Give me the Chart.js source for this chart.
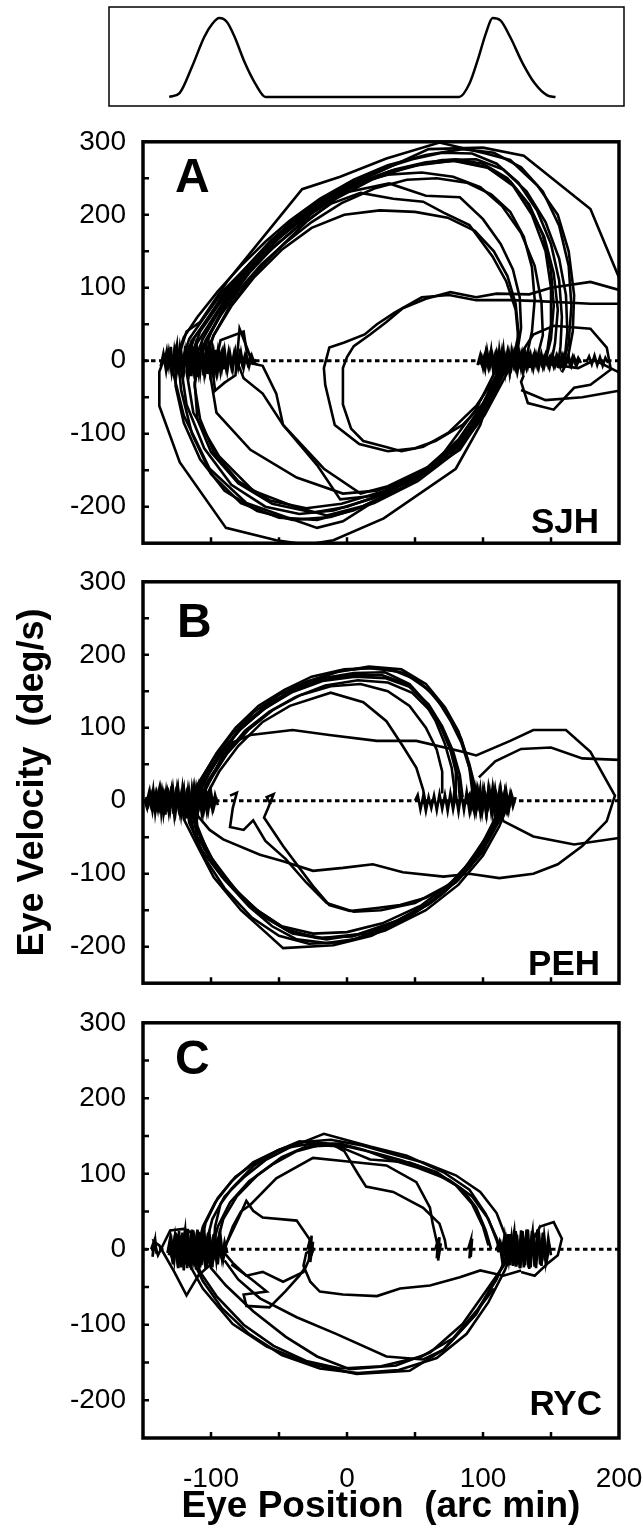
<!DOCTYPE html>
<html>
<head>
<meta charset="utf-8">
<script src="https://cdn.jsdelivr.net/npm/chart.js@4.4.0/dist/chart.umd.min.js"></script>
<style>
  body { margin: 0; background: #fff; }
  #page { position: relative; width: 643px; height: 1539px; overflow: hidden; background: #fff; }
  canvas { position: absolute; left: 0; }
  .tag { position: absolute; font-family: "Liberation Sans", Arial, sans-serif; font-weight: bold; line-height: 1; color: #000; white-space: nowrap; }
</style>
</head>
<body>
<div id="page">
  <canvas id="stim" width="643" height="116" style="top:0;width:643px;height:116px"></canvas>
  <canvas id="panelA" width="643" height="469" style="top:108px;width:643px;height:469px"></canvas>
  <canvas id="panelB" width="643" height="469" style="top:548px;width:643px;height:469px"></canvas>
  <canvas id="panelC" width="643" height="550" style="top:989px;width:643px;height:550px"></canvas>
  <div class="tag" style="left:175px;top:152px;font-size:48px">A</div>
  <div class="tag" style="left:177px;top:597px;font-size:48px">B</div>
  <div class="tag" style="left:175px;top:1034px;font-size:48px">C</div>
  <div class="tag" style="right:44px;top:503px;font-size:35px">SJH</div>
  <div class="tag" style="right:43px;top:945px;font-size:35px">PEH</div>
  <div class="tag" style="right:41px;top:1385px;font-size:35px">RYC</div>
</div>
<script>
const FONT = '"Liberation Sans", Arial, sans-serif';

// target trace in the top box (arbitrary time units, 0..1 displacement)
const stimTime = [11.7, 13.7, 16.1, 18.5, 20.1, 21.4, 22.9, 24.4, 26.4, 28.4, 30.4, 68.0, 70.0, 71.6, 73.2, 74.5, 76.0, 77.9, 80.3, 82.7, 85.1, 86.7];
const stimPos  = [0, 0.05, 0.38, 0.76, 0.93, 1.0, 0.95, 0.76, 0.43, 0.17, 0, 0, 0.17, 0.47, 0.81, 1.0, 0.97, 0.76, 0.43, 0.17, 0.02, 0];

// axis ticks
const xTicks = [-150, 200, 50];   // min, max, step  (arc min)
const yTicks = [-250, 300, 50];   // min, max, step  (deg/s)
const zeroLine = [[-150, 0], [200, 0]];

// ---------- panel A (SJH): [position, velocity] ----------
const sjhUp1 = [[-120,0],[-114,28],[-102,58],[-88,100],[-72,132],[-56,165],[-40,190],[-22,215],[0,242],[24,262],[48,276],[70,285],[92,284],[110,270],[126,244],[140,205],[150,160],[156,110],[158,60],[157,20],[155,-10]];
const sjhUp2 = [[-116,-5],[-110,25],[-98,60],[-84,100],[-68,135],[-50,168],[-32,195],[-12,220],[10,245],[35,262],[58,272],[80,276],[100,270],[118,250],[133,215],[145,170],[152,120],[155,70],[153,25],[150,-5]];
const sjhUp3 = [[-124,5],[-118,40],[-108,53],[-88,109],[-64,164],[-33,235],[-5,252],[29,277],[68,299],[102,284],[120,275],[140,240],[155,200],[163,150],[167,90],[166,40],[162,0],[158,-16]];
const sjhUp4 = [[-108,8],[-100,40],[-86,90],[-70,128],[-50,168],[-28,205],[-5,235],[25,260],[60,290],[100,292],[130,281],[179,208],[202,105]];
const sjhUp5 = [[-112,0],[-106,30],[-96,62],[-82,100],[-66,135],[-48,165],[-25,203],[-3,230],[31,243],[58,226],[83,224],[100,194],[113,160],[122,125],[127,87],[128,45],[125,10],[120,-5]];
const sjhUp6 = [[-108,5],[-100,38],[-88,80],[-72,120],[-54,156],[-35,185],[-12,215],[10,230],[34,222],[56,218],[71,203],[90,186],[107,143],[117,109],[124,70],[126,30],[122,0]];
const sjhUp7 = [[-122,-5],[-116,30],[-104,62],[-90,98],[-74,128],[-58,160],[-40,192],[-18,222],[6,243],[30,255],[55,258],[78,252],[98,238],[114,212],[128,175],[138,130],[143,80],[144,35],[140,5]];
const sjhUp8 = [[-104,0],[-98,35],[-86,75],[-70,115],[-52,150],[-30,190],[-8,222],[18,248],[44,265],[70,275],[95,276],[115,262],[132,232],[146,190],[156,140],[161,90],[162,40],[160,0]];
const sjhUp9 = [[-126,0],[-120,32],[-110,60],[-95,95],[-78,130],[-60,163],[-42,192],[-20,222],[5,248],[30,268],[58,282],[85,290],[108,285],[128,265],[144,232],[156,185],[163,130],[165,75],[163,25],[158,-10]];
const sjhUp10 = [[-115,5],[-108,40],[-95,75],[-80,112],[-62,148],[-43,182],[-22,210],[2,236],[28,256],[52,268],[78,274],[104,264],[122,240],[136,200],[146,150],[150,100],[150,50],[147,10]];
const sjhUp11 = [[-118,2],[-112,32],[-100,65],[-86,102],[-70,136],[-52,168],[-34,196],[-14,222],[8,244],[32,260],[56,270],[80,274],[102,266],[120,246],[134,214],[144,172],[150,124],[152,75],[150,30],[146,0]];
const sjhUp12 = [[-110,-4],[-104,28],[-93,62],[-79,98],[-63,132],[-45,162],[-26,190],[-4,216],[20,236],[44,248],[66,250],[88,244],[106,228],[120,204],[130,170],[136,128],[138,84],[136,40],[132,5]];
const sjhUp13 = [[-106,0],[-98,35],[-85,75],[-68,115],[-48,152],[-26,182],[-2,200],[24,206],[50,204],[74,196],[94,178],[108,150],[118,116],[124,78],[126,40],[124,8]];
const sjhDown1 = [[122,5],[115,-11],[110,-40],[98,-75],[76,-130],[46,-169],[12,-199],[-15,-212],[-40,-199],[-69,-178],[-94,-131],[-113,-71],[-118,-15],[-116,5]];
const sjhDown2 = [[118,3],[112,-7],[103,-66],[83,-122],[51,-160],[22,-178],[-3,-182],[-37,-160],[-71,-122],[-96,-71],[-101,-15],[-98,5]];
const sjhDown3 = [[120,0],[110,-11],[95,-66],[66,-139],[29,-182],[-3,-220],[-22,-229],[-45,-214],[-74,-195],[-101,-148],[-120,-75],[-128,-15],[-126,5]];
const sjhDown4 = [[112,0],[110,-19],[98,-88],[80,-148],[27,-216],[-10,-246],[-30,-252],[-52,-246],[-89,-229],[-123,-139],[-138,-62],[-138,-15],[-134,5]];
const sjhDown5 = [[124,5],[116,-15],[104,-60],[86,-110],[60,-150],[30,-180],[0,-200],[-25,-208],[-55,-196],[-80,-168],[-100,-125],[-110,-80],[-112,-30],[-108,0]];
const sjhDown6 = [[121,8],[113,-20],[100,-70],[80,-118],[54,-158],[20,-188],[-10,-205],[-35,-210],[-60,-200],[-85,-170],[-105,-120],[-118,-60],[-122,-10]];
const sjhDown7 = [[119,0],[111,-25],[96,-80],[72,-132],[40,-175],[5,-205],[-22,-218],[-50,-215],[-78,-195],[-100,-155],[-114,-100],[-122,-40],[-124,0]];
const sjhDown8 = [[116,2],[106,-45],[88,-100],[60,-145],[30,-172],[10,-182],[-17,-148],[-47,-88],[-62,-45],[-76,-24],[-80,-5]];
const sjhDown9 = [[114,0],[104,-50],[84,-110],[55,-155],[20,-185],[-5,-190],[-22,-143],[-47,-88],[-52,-45],[-62,-7],[-74,-2]];
const sjhDown10 = [[117,4],[110,-20],[99,-62],[82,-108],[58,-148],[28,-178],[-4,-196],[-30,-202],[-56,-192],[-80,-165],[-98,-125],[-108,-80],[-112,-35],[-110,0]];
const sjhDown11 = [[123,2],[114,-30],[101,-75],[80,-125],[52,-165],[20,-195],[-12,-214],[-40,-218],[-66,-206],[-90,-178],[-108,-135],[-120,-85],[-126,-35],[-126,0]];
const sjhSpiral1 = [[200,97],[179,108],[150,100],[134,91],[110,92],[95,87],[76,94],[58,85],[41,72],[29,53],[17,36],[5,20],[0,5],[-3,-10],[-3,-33],[-3,-60],[3,-93],[12,-110],[28,-118],[40,-124],[56,-118],[75,-98],[95,-62],[112,-15],[118,5]];
const sjhSpiral2 = [[200,78],[179,78],[137,82],[120,83],[95,83],[75,90],[55,87],[35,66],[22,50],[13,36],[-2,25],[-13,18],[-17,-10],[-16,-33],[-9,-88],[9,-114],[30,-124],[50,-120],[65,-110],[85,-88],[102,-55],[115,-12]];
const sjhRightLoop = [[128,10],[137,36],[152,48],[179,44],[191,18],[194,-12],[179,-33],[167,-37],[152,-67],[133,-58],[128,-29],[130,-20]];
const sjhTail1 = [[150,-5],[170,-10],[182,1],[200,-16]];
const sjhTail2 = [[128,-40],[146,-54],[173,-50],[200,-41]];
const sjhHump1 = [[-100,5],[-97,-41],[-90,-30],[-82,-20],[-79,44],[-73,15],[-70,-2],[-66,-5]];
const sjhHump2 = [[-95,10],[-93,28],[-76,40],[-74,15],[-70,5]];
const sjhJitLeft = [[-137,-8],[-135,10],[-133,-14],[-131,12],[-129,-16],[-127,15],[-125,-12],[-123,18],[-121,-15],[-119,13],[-117,-17],[-115,16],[-113,-13],[-111,17],[-109,-16],[-107,14],[-105,-18],[-103,15],[-101,-14],[-99,17],[-97,-12],[-95,14],[-93,-15],[-91,12],[-89,-10],[-87,13],[-85,-9],[-83,11],[-81,-8],[-79,10],[-77,-6],[-75,8],[-73,-5],[-71,6],[-69,-3],[-67,2]];
const sjhJitLeftB = [[-68,-4],[-70,7],[-72,-8],[-74,9],[-76,-10],[-78,12],[-80,-9],[-82,13],[-84,-12],[-86,10],[-88,-14],[-90,15],[-92,-11],[-94,13],[-96,-16],[-98,12],[-100,-15],[-102,18],[-104,-13],[-106,16],[-108,-17],[-110,14],[-112,-15],[-114,18],[-116,-14],[-118,12],[-120,-16],[-122,14],[-124,-11],[-126,13],[-128,-10],[-130,9],[-132,-8],[-134,6],[-136,-4]];
const sjhJitLeftC = [[-135,4],[-133,-9],[-131,8],[-129,-11],[-127,10],[-125,-9],[-123,12],[-121,-10],[-119,9],[-117,-12],[-115,10],[-113,-8],[-111,11],[-109,-10],[-107,9],[-105,-12],[-103,10],[-101,-9],[-99,11],[-97,-8],[-95,9],[-93,-10],[-91,7],[-89,-8],[-87,6],[-85,-7],[-83,5],[-81,-5],[-79,4],[-77,-4],[-75,3]];
const sjhJitLeftD = [[-134,0],[-132.5,14],[-131,-6],[-129.5,19],[-128,-20],[-126.5,6],[-125,22],[-123.5,-19],[-122,8],[-120.5,-22],[-119,20],[-117.5,-6],[-116,21],[-114.5,-21],[-113,7],[-111.5,19],[-110,-22],[-108.5,5],[-107,20],[-105.5,-20],[-104,8],[-102.5,-18],[-101,16],[-99.5,-5],[-98,-18],[-96.5,15],[-95,-14],[-93.5,4],[-92,13],[-90.5,-12]];
const sjhJitRight = [[96,-6],[98,8],[100,-10],[102,12],[104,-9],[106,11],[108,-13],[110,10],[112,-12],[114,14],[116,-10],[118,12],[120,-14],[122,11],[124,-9],[126,12],[128,-11],[130,9],[132,-10],[134,8],[136,-9],[138,10],[140,-8],[142,7],[144,-9],[146,8],[148,-7],[150,6],[152,-8],[154,7],[156,-6],[158,8],[160,-7],[162,5],[164,-6],[166,6],[168,-5],[170,4],[172,-3]];
const sjhJitRightB = [[171,3],[169,-6],[167,5],[165,-7],[163,6],[161,-5],[159,7],[157,-8],[155,6],[153,-7],[151,8],[149,-9],[147,7],[145,-8],[143,9],[141,-10],[139,8],[137,-11],[135,9],[133,-8],[131,11],[129,-12],[127,10],[125,-13],[123,11],[121,-9],[119,12],[117,-11],[115,10],[113,-12],[111,9],[109,-10],[107,8],[105,-9],[103,7],[101,-8],[99,6],[97,-5]];
const sjhJitRightC = [[97,3],[99,-5],[101,7],[103,-6],[105,8],[107,-7],[109,9],[111,-8],[113,7],[115,-9],[117,8],[119,-7],[121,9],[123,-8],[125,7],[127,-6],[129,8],[131,-7],[133,6],[135,-5],[137,7],[139,-6],[141,5],[143,-5],[145,6],[147,-4],[149,5],[151,-4],[153,4],[155,-3]];
const sjhJitRightD = [[100,0],[101.5,-12],[103,14],[104.5,-3],[106,15],[107.5,-14],[109,4],[110.5,-16],[112,15],[113.5,-5],[115,16],[116.5,-15],[118,5],[119.5,-16],[121,13],[122.5,-4],[124,14],[125.5,-13],[127,3],[128.5,12],[130,-12],[131.5,4],[133,11],[134.5,-10]];
const sjhJitEnd = [[176,-2],[178,6],[180,-5],[182,7],[184,-6],[186,5],[188,-7],[190,4],[192,-3]];

// ---------- panel B (PEH) ----------
const pehUp1 = [[-112,0],[-106,25],[-94,60],[-80,95],[-62,125],[-45,145],[-25,165],[-5,178],[15,182],[35,178],[52,165],[66,140],[76,110],[84,80],[90,45],[92,15],[90,-5]];
const pehUp2 = [[-110,5],[-102,35],[-90,72],[-76,105],[-58,132],[-40,152],[-18,168],[5,175],[28,176],[46,160],[58,135],[68,105],[76,70],[80,40],[80,10]];
const pehUp3 = [[-116,-5],[-110,22],[-98,58],[-85,90],[-68,122],[-50,145],[-30,163],[-8,176],[16,184],[40,180],[58,160],[72,128],[82,95],[88,60],[92,30],[94,5]];
const pehUp4 = [[-108,0],[-100,30],[-88,65],[-72,98],[-54,125],[-34,145],[-12,157],[10,160],[30,150],[46,130],[58,100],[66,70],[70,40],[70,10]];
const pehUp5 = [[-104,5],[-94,40],[-80,75],[-62,108],[-42,130],[-12,148],[12,135],[29,109],[41,75],[51,45],[56,15],[58,-5]];
const pehUp6 = [[-114,0],[-107,30],[-96,65],[-82,100],[-65,130],[-46,152],[-26,170],[-2,180],[22,182],[42,175],[60,152],[74,120],[84,85],[90,50],[94,20],[96,0]];
const pehUp7 = [[-111,2],[-104,32],[-92,68],[-77,101],[-60,127],[-41,150],[-20,165],[3,172],[26,172],[44,160],[56,138],[65,110],[72,78],[77,45],[79,15],[78,-5]];
const pehUp8 = [[-109,-2],[-102,28],[-90,62],[-75,96],[-57,122],[-38,142],[-16,158],[8,165],[30,162],[48,148],[62,122],[72,92],[78,60],[82,28],[83,0]];
const pehUp9 = [[-113,0],[-105,32],[-93,66],[-78,99],[-60,127],[-40,149],[-18,164],[6,170],[28,168],[46,156],[60,132],[70,102],[78,68],[83,35],[85,5]];
const pehDown1 = [[118,5],[112,-15],[104,-45],[95,-70],[80,-110],[60,-140],[30,-172],[5,-190],[-15,-195],[-37,-190],[-55,-172],[-72,-145],[-92,-104],[-108,-65],[-116,-30],[-118,0]];
const pehDown2 = [[116,0],[110,-25],[100,-60],[85,-100],[65,-135],[40,-162],[12,-182],[-15,-190],[-40,-182],[-60,-160],[-78,-130],[-96,-90],[-110,-50],[-114,-15]];
const pehDown3 = [[120,2],[114,-20],[104,-55],[90,-92],[70,-128],[45,-160],[18,-185],[-10,-198],[-47,-202],[-60,-180],[-78,-150],[-98,-105],[-110,-62],[-120,-25],[-122,0]];
const pehDown4 = [[114,5],[108,-30],[98,-68],[82,-108],[60,-142],[32,-170],[4,-186],[-22,-188],[-45,-176],[-66,-150],[-86,-115],[-102,-72],[-110,-35],[-112,-5]];
const pehDown5 = [[119,-3],[112,-35],[100,-75],[82,-115],[58,-150],[28,-178],[-3,-194],[-28,-196],[-50,-185],[-70,-160],[-90,-120],[-104,-80],[-113,-40],[-116,-10]];
const pehDown6 = [[117,0],[110,-30],[96,-72],[78,-110],[55,-143],[26,-168],[0,-180],[-25,-182],[-48,-172],[-70,-145],[-90,-108],[-105,-66],[-112,-28],[-113,0]];
const pehDown7 = [[115,0],[109,-28],[99,-65],[84,-104],[63,-138],[36,-165],[8,-183],[-18,-188],[-42,-180],[-63,-157],[-82,-122],[-99,-80],[-110,-40],[-115,-8]];
const pehHook1 = [[112,-15],[100,-70],[80,-112],[58,-133],[39,-143],[22,-147],[2,-151],[-13,-143],[-25,-117],[-47,-62],[-61,-23],[-58,-10],[-54,9],[-59,5],[-56,-5]];
const pehHook2 = [[110,-20],[95,-75],[75,-115],[50,-140],[25,-150],[5,-152],[-15,-140],[-30,-112],[-45,-80],[-60,-55],[-69,-27],[-76,-40],[-86,-36],[-84,-10],[-81,11],[-86,7]];
const pehWide = [[-110,0],[-100,30],[-92,60],[-84,80],[-71,90],[-40,97],[-13,90],[22,82],[51,82],[85,67],[95,62],[120,82],[137,97],[161,97],[179,67],[197,7],[191,-28],[173,-62],[155,-87],[137,-100],[112,-106],[90,-100],[71,-104],[41,-98],[19,-87],[-3,-92],[-25,-96],[-47,-83],[-64,-74],[-91,-53],[-101,-40],[-110,-20]];
const pehRight1 = [[110,5],[115,-28],[137,-49],[167,-60],[200,-51]];
const pehRight2 = [[97,32],[109,54],[128,71],[150,73],[173,58],[200,56]];
const pehJitLeft = [[-149,2],[-147,-10],[-145,12],[-143,-14],[-141,9],[-139,-12],[-137,15],[-135,-18],[-133,13],[-131,-16],[-129,14],[-127,-20],[-125,16],[-123,-14],[-121,18],[-119,-17],[-117,14],[-115,-22],[-113,15],[-111,-18],[-109,16],[-107,-14],[-105,12],[-103,-15],[-101,10],[-99,-12],[-97,8],[-95,-6]];
const pehJitLeftB = [[-96,5],[-98,-10],[-100,12],[-102,-13],[-104,15],[-106,-17],[-108,13],[-110,-20],[-112,17],[-114,-15],[-116,13],[-118,-24],[-120,16],[-122,-19],[-124,14],[-126,-15],[-128,17],[-130,-13],[-132,12],[-134,-11],[-136,14],[-138,-9],[-140,11],[-142,-8],[-144,9],[-146,-6],[-148,5]];
const pehJitLeftC = [[-148,-3],[-146,6],[-144,-8],[-142,7],[-140,-9],[-138,8],[-136,-10],[-134,9],[-132,-8],[-130,10],[-128,-9],[-126,11],[-124,-10],[-122,9],[-120,-11],[-118,10],[-116,-9],[-114,11],[-112,-10],[-110,9],[-108,-8],[-106,9],[-104,-7],[-102,6],[-100,-6],[-98,5]];
const pehJitLeftD = [[-147,0],[-145.5,12],[-144,-5],[-142.5,15],[-141,-16],[-139.5,5],[-138,17],[-136.5,-17],[-135,6],[-133.5,-19],[-132,18],[-130.5,-6],[-129,20],[-127.5,-18],[-126,5],[-124.5,19],[-123,-20],[-121.5,6],[-120,18],[-118.5,-19],[-117,4],[-115.5,-17],[-114,16],[-112.5,-5],[-111,15],[-109.5,-14],[-108,4],[-106.5,12],[-105,-12],[-103.5,3]];
const pehJitRight = [[50,0],[52,8],[54,-12],[56,6],[58,-14],[60,5],[62,-10],[64,7],[66,-13],[68,9],[70,-11],[72,8],[74,-14],[76,10],[78,-12],[80,9],[82,-15],[84,11],[86,-13],[88,12],[90,-14],[92,13],[94,-15],[96,14],[98,-16],[100,15],[102,-14],[104,16],[106,-15],[108,14],[110,-16],[112,13],[114,-14],[116,12],[118,-12],[120,10],[122,-8],[124,5]];
const pehJitRightB = [[123,-4],[121,9],[119,-13],[117,14],[115,-15],[113,16],[111,-13],[109,15],[107,-16],[105,13],[103,-15],[101,14],[99,-13],[97,12],[95,-14],[93,11],[91,-12],[89,10]];
const pehJitRightC = [[88,-5],[90,7],[92,-8],[94,9],[96,-7],[98,8],[100,-9],[102,7],[104,-8],[106,9],[108,-7],[110,8],[112,-9],[114,7],[116,-6],[118,6],[120,-5],[122,4]];
const pehJitRightD = [[92,0],[93.5,-14],[95,15],[96.5,-4],[98,16],[99.5,-15],[101,5],[102.5,-17],[104,16],[105.5,-5],[107,17],[108.5,-16],[110,4],[111.5,-15],[113,14],[114.5,-4],[116,12],[117.5,-11],[119,3],[120.5,9]];

// ---------- panel C (RYC) ----------
const rycUp1 = [[-98,0],[-97,30],[-93,60],[-85,80],[-69,110],[-52,130],[-35,143],[-15,140],[-3,134],[17,119],[46,115],[66,102],[85,79],[95,55],[102,25],[106,0]];
const rycUp2 = [[-104,5],[-99,40],[-90,70],[-76,95],[-60,118],[-42,135],[-17,153],[17,136],[44,124],[71,102],[90,79],[102,47],[110,15],[113,-3]];
const rycUp3 = [[-100,-5],[-95,30],[-86,62],[-72,90],[-55,112],[-37,130],[-20,138],[0,136],[20,128],[40,118],[62,104],[80,85],[92,60],[100,30],[104,5]];
const rycUp4 = [[-90,0],[-84,30],[-78,50],[-71,59],[-52,94],[-25,121],[-3,117],[29,111],[51,89],[61,55],[63,34],[66,10],[68,0]];
const rycUp5 = [[-96,5],[-91,40],[-81,70],[-66,98],[-48,122],[-30,136],[-10,138],[-2,130],[8,100],[14,83],[34,76],[56,55],[68,34],[72,12],[73,0]];
const rycUp6 = [[-108,0],[-104,35],[-95,68],[-82,96],[-65,118],[-46,134],[-26,140],[-5,140],[12,132],[30,120],[52,108],[75,92],[92,70],[104,40],[110,12],[112,0]];
const rycUp7 = [[-110,0],[-106,30],[-97,62],[-85,90],[-69,115],[-50,132],[-32,142],[-12,145],[10,138],[30,128],[56,115],[80,98],[98,76],[110,48],[116,20],[118,0]];
const rycDown1 = [[120,-9],[112,-30],[95,-86],[71,-133],[46,-161],[7,-165],[-27,-152],[-59,-129],[-84,-99],[-106,-52],[-116,-20],[-118,0]];
const rycDown2 = [[115,-22],[105,-48],[85,-99],[61,-137],[36,-154],[2,-159],[-22,-142],[-45,-116],[-69,-82],[-89,-48],[-100,-25],[-104,0]];
const rycDown3 = [[108,-52],[90,-95],[71,-133],[56,-146],[29,-142],[-8,-112],[-37,-90],[-64,-65],[-80,-40],[-90,-15]];
const rycDown4 = [[118,-5],[110,-40],[96,-80],[78,-118],[55,-142],[25,-155],[-5,-158],[-30,-148],[-54,-128],[-76,-100],[-96,-62],[-108,-30],[-112,-5]];
const rycDown5 = [[122,0],[116,-28],[104,-70],[88,-112],[66,-144],[38,-160],[8,-164],[-20,-158],[-48,-140],[-72,-112],[-92,-78],[-106,-42],[-114,-12]];
const rycFlat = [[128,-28],[115,-35],[98,-28],[83,-37],[61,-48],[39,-52],[22,-62],[-3,-60],[-20,-56],[-27,-43],[-32,-22],[-30,-5],[-25,0],[-27,12],[-37,38],[-62,42],[-69,51],[-74,64],[-80,40],[-88,10]];
const rycZig1 = [[-25,-2],[-32,-30],[-47,-43],[-62,-30],[-74,-35],[-84,-18],[-90,-5]];
const rycZig2 = [[-30,-22],[-35,-35],[-45,-55],[-57,-77],[-74,-75],[-76,-60],[-59,-56],[-70,-40],[-85,-20]];
const rycRightLoop = [[128,-30],[138,-35],[148,-18],[155,-8],[158,14],[152,36],[142,30],[136,10]];
const rycLeftLoop = [[-100,-20],[-109,-34],[-118,-61],[-127,-30],[-138,5],[-142,10],[-139,-8],[-130,25],[-120,27],[-112,20]];
const rycJitLeft = [[-132,-5],[-130,15],[-128,-20],[-126,22],[-124,-25],[-122,18],[-120,-28],[-118,24],[-116,-22],[-114,26],[-112,-20],[-110,25],[-108,-24],[-106,20],[-104,-26],[-102,22],[-100,-18],[-98,20],[-96,-15],[-94,16],[-92,-12],[-90,10],[-88,-5]];
const rycJitLeftB = [[-89,6],[-91,-14],[-93,18],[-95,-20],[-97,22],[-99,-24],[-101,19],[-103,-22],[-105,26],[-107,-21],[-109,23],[-111,-27],[-113,20],[-115,-24],[-117,27],[-119,-20],[-121,22],[-123,-18],[-125,20],[-127,-15],[-129,12],[-131,-8]];
const rycJitLeftC = [[-131,3],[-129,-10],[-127,12],[-125,-14],[-123,10],[-121,-12],[-119,14],[-117,-11],[-115,13],[-113,-14],[-111,12],[-109,-10],[-107,13],[-105,-12],[-103,11],[-101,-13],[-99,10],[-97,-9],[-95,8],[-93,-7],[-91,5]];
const rycJitLeftD = [[-128,0],[-126.5,18],[-125,-8],[-123.5,24],[-122,-24],[-120.5,8],[-119,26],[-117.5,-25],[-116,7],[-114.5,-27],[-113,25],[-111.5,-8],[-110,26],[-108.5,-24],[-107,6],[-105.5,22],[-104,-22],[-102.5,5],[-101,18],[-99.5,-18],[-98,4],[-96.5,-14]];
const rycJitRight = [[110,0],[112,10],[114,-14],[116,16],[118,-18],[120,20],[122,-22],[124,24],[126,-20],[128,25],[130,-24],[132,22],[134,-26],[136,24],[138,-22],[140,26],[142,-20],[144,22],[146,-16],[148,15],[150,-8]];
const rycJitRightB = [[149,6],[147,-14],[145,18],[143,-22],[141,24],[139,-25],[137,22],[135,-24],[133,26],[131,-21],[129,23],[127,-25],[125,19],[123,-20],[121,16],[119,-15],[117,12],[115,-10],[113,6]];
const rycJitRightC = [[111,-4],[113,8],[115,-9],[117,11],[119,-12],[121,10],[123,-13],[125,12],[127,-11],[129,13],[131,-12],[133,10],[135,-13],[137,12],[139,-10],[141,11],[143,-9],[145,8],[147,-6]];
const rycJitRightD = [[114,0],[115.5,14],[117,-6],[118.5,20],[120,-21],[121.5,7],[123,24],[124.5,-23],[126,8],[127.5,-25],[129,24],[130.5,-7],[132,26],[133.5,-24],[135,6],[136.5,24],[138,-23],[139.5,7],[141,21],[142.5,-20],[144,5],[145.5,-15]];
const rycSpike1 = [[-29,0],[-27,15],[-28,-14],[-26,18],[-27,-17],[-25,10],[-26,-8]];
const rycSpike2 = [[65,0],[67,14],[66,-12],[68,16],[67,-15],[69,8]];
const rycSpike3 = [[89,0],[91,12],[90,-12],[92,14],[91,-10]];
const rycSpike4 = [[-144,0],[-142,10],[-143,-10],[-141,12],[-140,-6]];

const sjhTraces = [sjhUp1, sjhUp2, sjhUp3, sjhUp4, sjhUp5, sjhUp6, sjhUp7, sjhUp8, sjhUp9, sjhUp10, sjhUp11, sjhUp12, sjhUp13,
  sjhDown1, sjhDown2, sjhDown3, sjhDown4, sjhDown5, sjhDown6, sjhDown7, sjhDown8, sjhDown9, sjhDown10, sjhDown11,
  sjhSpiral1, sjhSpiral2, sjhRightLoop, sjhTail1, sjhTail2, sjhHump1, sjhHump2,
  sjhJitLeft, sjhJitLeftB, sjhJitLeftC, sjhJitLeftD, sjhJitRight, sjhJitRightB, sjhJitRightC, sjhJitRightD, sjhJitEnd];
const pehTraces = [pehUp1, pehUp2, pehUp3, pehUp4, pehUp5, pehUp6, pehUp7, pehUp8, pehUp9,
  pehDown1, pehDown2, pehDown3, pehDown4, pehDown5, pehDown6, pehDown7, pehHook1, pehHook2,
  pehWide, pehRight1, pehRight2, pehJitLeft, pehJitLeftB, pehJitLeftC, pehJitLeftD,
  pehJitRight, pehJitRightB, pehJitRightC, pehJitRightD];
const rycTraces = [rycUp1, rycUp2, rycUp3, rycUp4, rycUp5, rycUp6, rycUp7,
  rycDown1, rycDown2, rycDown3, rycDown4, rycDown5, rycFlat, rycZig1, rycZig2,
  rycRightLoop, rycLeftLoop, rycJitLeft, rycJitLeftB, rycJitLeftC, rycJitLeftD,
  rycJitRight, rycJitRightB, rycJitRightC, rycJitRightD,
  rycSpike1, rycSpike2, rycSpike3, rycSpike4];

// box round the plot area + small inward ticks taken from the scales
const framePlugin = {
  id: 'frame',
  afterDatasetsDraw(chart, args, opts) {
    const {ctx, chartArea: a, scales} = chart;
    ctx.save();
    ctx.strokeStyle = '#000';
    if (opts.ticks) {
      ctx.lineWidth = 2.5;
      ctx.beginPath();
      scales.y.ticks.forEach(t => {
        if (t.value <= scales.y.min || t.value >= scales.y.max) return;
        const y = scales.y.getPixelForValue(t.value);
        ctx.moveTo(a.left, y); ctx.lineTo(a.left + 6, y);
      });
      scales.x.ticks.forEach(t => {
        if (t.value <= scales.x.min || t.value >= scales.x.max) return;
        const x = scales.x.getPixelForValue(t.value);
        ctx.moveTo(x, a.bottom); ctx.lineTo(x, a.bottom - 6);
      });
      ctx.stroke();
    }
    ctx.lineWidth = opts.width;
    ctx.strokeRect(a.left, a.top, a.right - a.left, a.bottom - a.top);
    ctx.restore();
  }
};

function toXY(pts) {
  return pts.map(p => ({x: p[0], y: p[1]}));
}

function phaseChart(id, traces, opt) {
  let datasets = traces.map(t => ({
    data: toXY(t), showLine: true, borderColor: '#000', borderWidth: 2.6,
    pointRadius: 0, fill: false, tension: 0
  }));
  // dotted zero-velocity line, drawn underneath
  datasets.push({data: toXY(zeroLine), showLine: true, borderColor: '#000', borderWidth: 3,
    borderDash: [4.5, 3.5], pointRadius: 0, fill: false});

  let tickFont = {family: FONT, size: 28};
  let xAxis = {
    type: 'linear', min: xTicks[0], max: xTicks[1],
    afterFit: s => {
      s.height = opt.xLabels ? 101 : 0;
      s.paddingLeft = 0;
      s.paddingRight = 0;
    },
    ticks: {display: !!opt.xLabels, stepSize: xTicks[2], autoSkip: false, maxRotation: 0, minRotation: 0,
      padding: 24, color: '#000', font: tickFont, callback: v => (v % 100 === 0 ? String(v) : '')},
    grid: {display: false, drawTicks: false},
    border: {display: false}
  };
  if (opt.xLabels) {
    xAxis.title = {display: true, text: 'Eye Position  (arc min)', color: '#000',
      font: {family: FONT, size: 37, weight: 'bold'}, padding: {top: 0, bottom: 10}};
  }
  let yAxis = {
    type: 'linear', min: yTicks[0], max: yTicks[1],
    afterFit: s => { s.width = 143; },
    ticks: {stepSize: yTicks[2], autoSkip: false, padding: 17, color: '#000', font: tickFont,
      callback: v => (v % 100 === 0 ? String(v) : '')},
    grid: {display: false, drawTicks: false},
    border: {display: false}
  };
  if (opt.yTitle) {
    yAxis.title = {display: true, text: 'Eye Velocity  (deg/s)', color: '#000',
      font: {family: FONT, size: 36, weight: 'bold'}, padding: {top: 11, bottom: 0}};
  }

  return new Chart(document.getElementById(id), {
    type: 'scatter',
    data: {datasets: datasets},
    options: {
      responsive: false, animation: false, devicePixelRatio: 1, events: [],
      layout: {padding: {top: 20, right: 24, bottom: opt.xLabels ? 0 : 20, left: 0}},
      plugins: {legend: {display: false}, tooltip: {enabled: false}, frame: {width: 3.5, ticks: true}},
      scales: {x: xAxis, y: yAxis}
    },
    plugins: [framePlugin]
  });
}

// top box: the target motion
new Chart(document.getElementById('stim'), {
  type: 'scatter',
  data: {datasets: [{
    data: stimTime.map((t, i) => ({x: t, y: stimPos[i]})),
    showLine: true, borderColor: '#000', borderWidth: 2.5, pointRadius: 0,
    cubicInterpolationMode: 'monotone', fill: false
  }]},
  options: {
    responsive: false, animation: false, devicePixelRatio: 1, events: [],
    layout: {padding: {top: 7, right: 19, bottom: 10, left: 109}},
    plugins: {legend: {display: false}, tooltip: {enabled: false}, frame: {width: 1.5, ticks: false}},
    scales: {
      x: {type: 'linear', display: false, min: 0, max: 100},
      y: {type: 'linear', display: false, min: -0.114, max: 1.14}
    }
  },
  plugins: [framePlugin]
});

phaseChart('panelA', sjhTraces, {});
phaseChart('panelB', pehTraces, {yTitle: true});
phaseChart('panelC', rycTraces, {xLabels: true});
</script>
</body>
</html>
